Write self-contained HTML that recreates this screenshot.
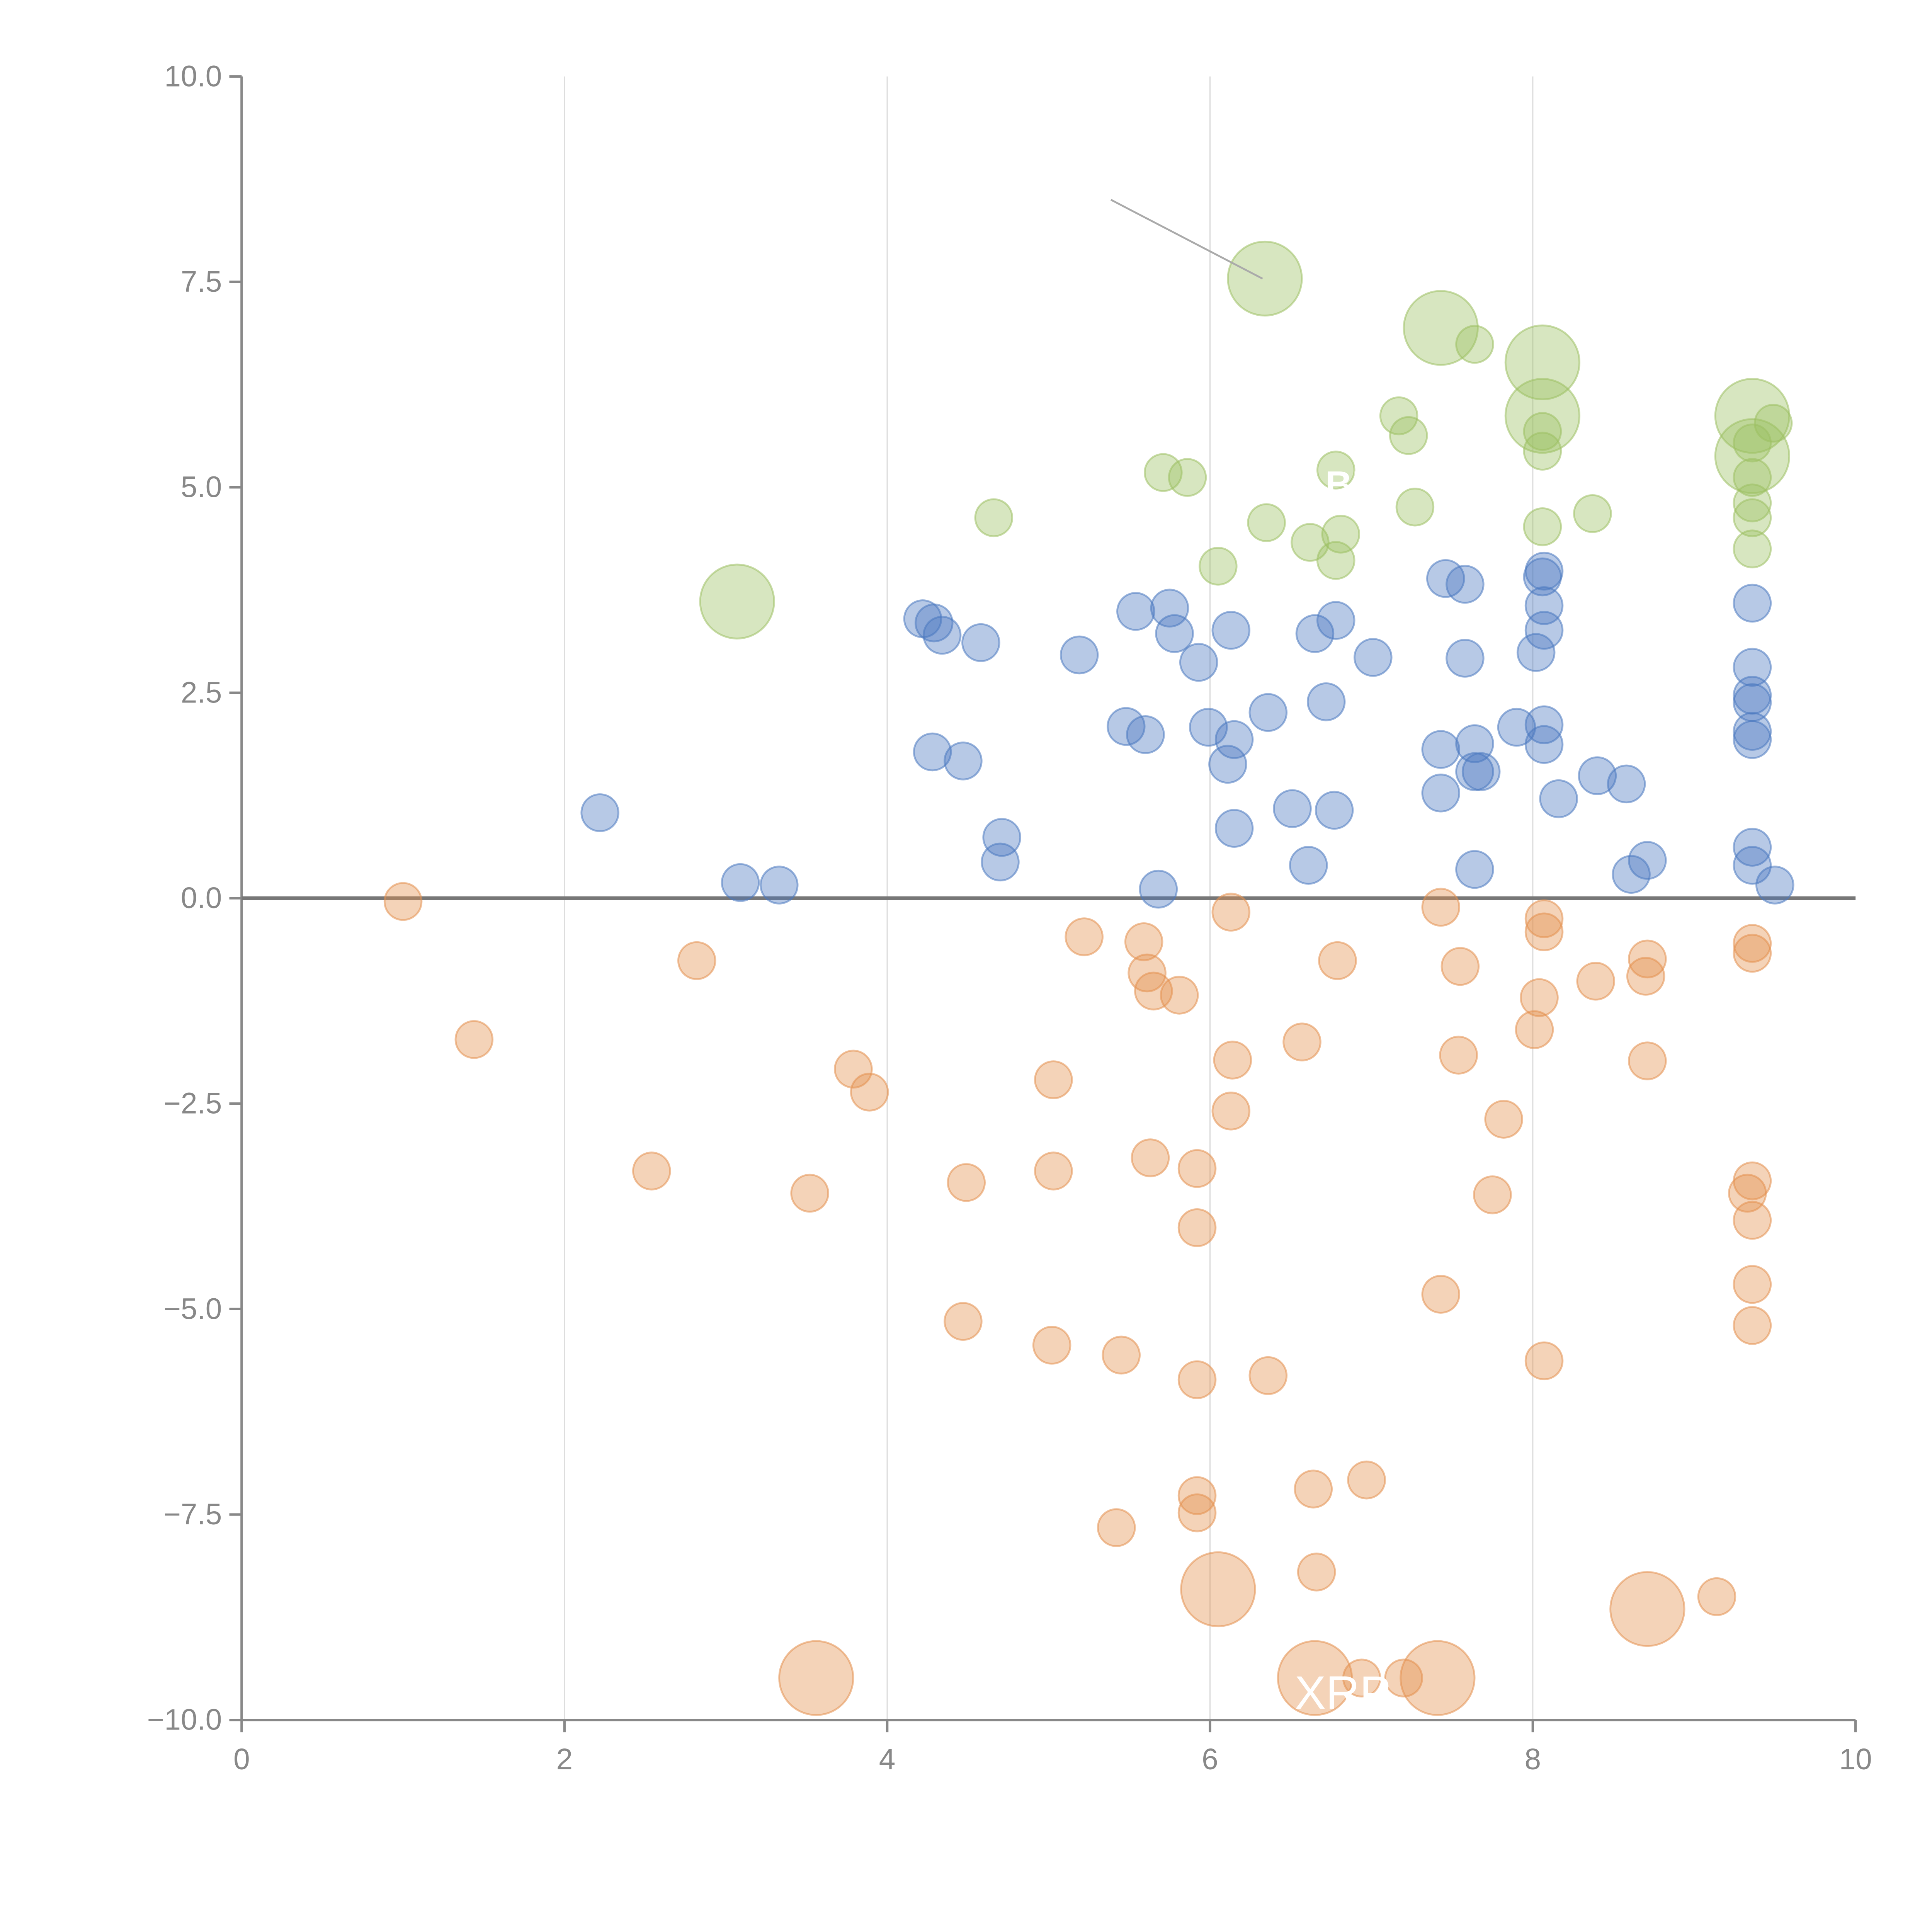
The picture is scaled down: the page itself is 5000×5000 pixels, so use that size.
<!DOCTYPE html>
<html><head><meta charset="utf-8"><style>
html,body{margin:0;padding:0;background:#fff;}
svg{display:block;}
text{font-family:"Liberation Sans",sans-serif;}
</style></head><body>
<svg id="chart" width="5000" height="5000" viewBox="0 0 1567 1567" xmlns="http://www.w3.org/2000/svg">
<g id="grid"></g>
<g id="axes"></g>
<g id="marks"></g>
<line x1="901" y1="162" x2="1024" y2="226" stroke="#aaa" stroke-width="1.5"/>
<text x="1050" y="1386" fill="#fff" font-size="38">XRP</text>
<text x="1075" y="403" fill="#fff" font-size="30" font-weight="bold">BP</text>
</svg>
<script>
const xTicks=[0,2,4,6,8,10];
const xTickLabels=["0","2","4","6","8","10"];
const yTicks=[10,7.5,5,2.5,0,-2.5,-5,-7.5,-10];
const yTickLabels=["10.0","7.5","5.0","2.5","0.0","\u22122.5","\u22125.0","\u22127.5","\u221210.0"];
const greenX=[6.34,7.43,7.64,8.06,8.06,7.17,7.23,8.06,8.06,9.36,9.36,9.49,9.36,9.36,9.36,9.36,9.36,5.71,5.86,6.78,7.27,8.37,8.06,4.66,6.35,6.62,6.81,6.78,6.05,3.07];
const greenY=[7.54,6.94,6.74,6.52,5.87,5.87,5.63,5.68,5.44,5.87,5.38,5.78,5.54,5.12,4.81,4.63,4.25,5.18,5.12,5.21,4.76,4.68,4.52,4.63,4.57,4.33,4.43,4.11,4.04,3.61];
const greenS=[2,2,1,2,2,1,1,1,1,2,2,1,1,1,1,1,1,1,1,1,1,1,1,1,1,1,1,1,1,2];
const blueX=[2.22,3.09,3.33,4.22,4.29,4.34,4.58,4.28,4.47,4.71,4.70,5.19,5.54,5.75,5.78,5.93,5.48,5.60,5.99,6.13,6.15,6.11,6.15,5.68,6.36,6.72,6.51,6.77,6.61,6.65,6.78,7.01,7.46,7.58,7.58,7.43,7.43,7.64,7.64,7.68,7.64,7.90,8.07,8.06,8.07,8.07,8.02,8.07,8.07,8.16,8.40,8.58,8.61,8.71,9.36,9.36,9.36,9.36,9.36,9.36,9.36,9.36,9.50];
const blueY=[1.04,0.19,0.16,3.40,3.35,3.20,3.11,1.78,1.67,0.74,0.44,2.96,3.49,3.53,3.22,2.87,2.09,1.99,2.08,3.26,1.93,1.63,0.85,0.11,2.26,2.39,1.09,1.07,0.40,3.22,3.38,2.93,3.89,3.82,2.92,1.81,1.28,1.88,1.54,1.54,0.35,2.08,3.98,3.91,3.56,3.26,2.99,2.11,1.87,1.21,1.49,1.39,0.29,0.46,3.59,2.81,2.47,2.38,2.03,1.93,0.62,0.40,0.16];
const orangeX=[1.00,1.44,2.82,2.54,3.52,3.79,3.89,4.49,4.47,5.03,5.03,5.02,5.22,5.59,5.61,5.65,5.81,5.63,5.92,5.92,5.45,5.92,5.92,5.92,5.42,6.13,6.14,6.13,6.36,6.05,6.57,6.79,6.64,6.66,6.97,6.65,6.94,7.20,7.41,3.56,7.43,7.55,7.54,7.43,7.82,7.75,8.07,8.07,8.04,8.01,8.07,8.39,8.71,8.70,8.71,8.71,9.14,9.36,9.36,9.36,9.33,9.36,9.36,9.36];
const orangeY=[-0.04,-1.72,-0.76,-3.32,-3.59,-2.08,-2.36,-3.46,-5.15,-2.21,-3.32,-5.44,-0.47,-0.53,-0.91,-1.13,-1.18,-3.16,-3.29,-4.01,-5.56,-5.86,-7.27,-7.48,-7.66,-0.17,-1.97,-2.59,-5.81,-8.41,-1.75,-0.76,-7.19,-8.20,-7.08,-9.49,-9.49,-9.49,-9.49,-9.49,-0.11,-0.83,-1.91,-4.82,-2.69,-3.61,-0.25,-0.41,-1.21,-1.60,-5.63,-1.01,-0.74,-0.95,-1.98,-8.65,-8.50,-0.55,-0.67,-3.44,-3.59,-3.92,-4.70,-5.20];
const orangeS=[1,1,1,1,1,1,1,1,1,1,1,1,1,1,1,1,1,1,1,1,1,1,1,1,1,1,1,1,1,2,1,1,1,1,1,2,1,1,2,2,1,1,1,1,1,1,1,1,1,1,1,1,1,1,1,2,1,1,1,1,1,1,1,1];

const NS="http://www.w3.org/2000/svg";
const X0=196,X1=1505,Y0=1395,Y1=62;
function sx(v){return X0+(v-0)/(10-0)*(X1-X0);}
function sy(v){return Y0-(v+10)/20*(Y0-Y1);}
function mk(tag,attrs,parent){const e=document.createElementNS(NS,tag);for(const k in attrs)e.setAttribute(k,attrs[k]);parent.appendChild(e);return e;}
const grid=document.getElementById('grid'),axes=document.getElementById('axes'),marks=document.getElementById('marks');
xTicks.forEach((t,i)=>{
  if(t>0&&t<10){const g=mk('line',{x1:sx(t),x2:sx(t),y1:Y1,y2:Y0,stroke:'#ddd','stroke-width':1},grid);
  
  }
  const tk=mk('line',{x1:sx(t),x2:sx(t),y1:Y0,y2:Y0+10,stroke:'#888','stroke-width':2},axes);
  
  
  const tx=mk('text',{x:sx(t),y:Y0+40,'text-anchor':'middle','font-size':24,fill:'#888'},axes);
  tx.textContent=xTickLabels[i];
  
  
});
yTicks.forEach((t,i)=>{
  const tk=mk('line',{x1:X0-10,x2:X0,y1:sy(t),y2:sy(t),stroke:'#888','stroke-width':2},axes);
  
  
  const tx=mk('text',{x:X0-16,y:sy(t)+8,'text-anchor':'end','font-size':24,fill:'#888'},axes);
  tx.textContent=yTickLabels[i];
  
  
});
const xa=mk('line',{x1:X0,x2:X1,y1:Y0,y2:Y0,stroke:'#888','stroke-width':2},axes);


const ya=mk('line',{x1:X0,x2:X0,y1:Y1,y2:Y0,stroke:'#888','stroke-width':2},axes);


const zl=mk('line',{x1:X0,x2:X1,y1:sy(0),y2:sy(0),stroke:'#777','stroke-width':3},axes);


function series(xs,ys,ss,color,name){
  xs.forEach((x,i)=>{
    const r=ss?ss[i]*15:15;
    const c=mk('circle',{cx:sx(x),cy:sy(ys[i]),r:r,fill:color,'fill-opacity':0.4,stroke:color,'stroke-opacity':0.55,'stroke-width':1.5},marks);
    
    
  });
}
series(orangeX,orangeY,orangeS,'#e3904e','bubble-negative');
series(blueX,blueY,null,'#4a78c0','bubble-positive');
series(greenX,greenY,greenS,'#9cc062','bubble-high');
</script>
</body></html>
